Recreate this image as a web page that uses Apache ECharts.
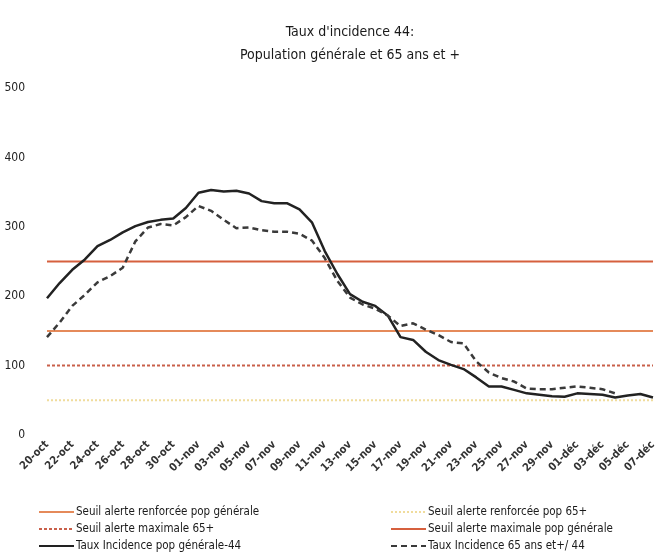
<!DOCTYPE html>
<html>
<head>
<meta charset="utf-8">
<script src="https://cdn.jsdelivr.net/npm/echarts@6/dist/echarts.min.js"></script>
<style>
  html, body { margin: 0; padding: 0; background: #fff; }
  #chart { width: 659px; height: 558px; }
</style>
</head>
<body>
<div id="chart"></div>
<script>
// jours du 20-oct au 07-déc
var days = [
  '20-oct','21-oct','22-oct','23-oct','24-oct','25-oct','26-oct','27-oct','28-oct','29-oct','30-oct','31-oct',
  '01-nov','02-nov','03-nov','04-nov','05-nov','06-nov','07-nov','08-nov','09-nov','10-nov','11-nov','12-nov',
  '13-nov','14-nov','15-nov','16-nov','17-nov','18-nov','19-nov','20-nov','21-nov','22-nov','23-nov','24-nov',
  '25-nov','26-nov','27-nov','28-nov','29-nov','30-nov','01-déc','02-déc','03-déc','04-déc','05-déc','06-déc','07-déc'
];
var tauxGeneral = [
  197, 219, 238, 253, 272, 281, 292, 301, 307, 310, 312, 327,
  349, 353, 351, 352, 348, 337, 334, 334, 325, 306, 265, 232,
  203, 192, 186, 172, 141, 137, 120, 108, 101, 95, 83, 70,
  70, 65, 60, 58, 56, 55, 60, 59, 58, 54, 57, 59, 54
];
var taux65 = [
  141, 162, 186, 202, 220, 229, 241, 279, 299, 304, 302, 314,
  330, 323, 310, 298, 299, 295, 293, 293, 290, 280, 255, 222,
  198, 188, 182, 172, 157, 161, 152, 144, 134, 132, 106, 90,
  82, 77, 67, 66, 66, 68, 70, 68, 66, 60, null, null, null
];
var seuilRenforceGeneral = 150;
var seuilRenforce65 = 50;
var seuilMaximal65 = 100;
var seuilMaximalGeneral = 250;
var yTicks = [0, 100, 200, 300, 400, 500];

var font = "'DejaVu Sans Condensed', 'Liberation Sans Narrow', sans-serif";

function flat(v) {
  return days.map(function () { return v; });
}

var legendBase = {
  top: 501,
  height: 58,
  orient: 'vertical',
  itemWidth: 35,
  itemHeight: 8,
  itemGap: 5,
  itemStyle: { opacity: 0 },
  textStyle: { fontFamily: font, fontSize: 11.5, color: '#1a1a1a', padding: [0, 0, 0, -3] }
};

var myChart = echarts.init(document.getElementById('chart'));
var option = {
  animation: false,
  title: {
    text: "Taux d'incidence 44:\nPopulation générale et 65 ans et +",
    left: 345,
    top: 16,
    textAlign: 'center',
    textStyle: {
      fontFamily: font,
      fontSize: 14,
      fontWeight: 'normal',
      color: '#1a1a1a',
      lineHeight: 23
    }
  },
  grid: {
    left: 47,
    right: 4,
    top: 88,
    bottom: 123,
    containLabel: false
  },
  legend: [
    Object.assign({}, legendBase, {
      left: 33,
      data: ['Seuil alerte renforcée pop générale', 'Seuil alerte maximale 65+', 'Taux Incidence pop générale-44']
    }),
    Object.assign({}, legendBase, {
      left: 385,
      data: ['Seuil alerte renforcée pop 65+', 'Seuil alerte maximale pop générale', 'Taux Incidence 65 ans et+/ 44']
    })
  ],
  xAxis: {
    type: 'category',
    boundaryGap: false,
    data: days,
    axisLine: { show: false },
    axisTick: { show: false },
    axisLabel: {
      interval: 1,
      rotate: 45,
      margin: 8,
      fontFamily: font,
      fontSize: 11,
      fontWeight: 'bold',
      color: '#333'
    }
  },
  yAxis: {
    type: 'value',
    min: yTicks[0],
    max: yTicks[yTicks.length - 1],
    interval: 100,
    axisLine: { show: false },
    axisTick: { show: false },
    splitLine: { show: false },
    axisLabel: {
      margin: 22,
      fontFamily: font,
      fontSize: 12,
      color: '#222'
    }
  },
  series: [
    {
      name: 'Seuil alerte renforcée pop générale',
      type: 'line',
      symbol: 'none',
      data: flat(seuilRenforceGeneral),
      lineStyle: { color: '#e58a5a', width: 2 },
      itemStyle: { color: '#e58a5a' }
    },
    {
      name: 'Seuil alerte renforcée pop 65+',
      type: 'line',
      symbol: 'none',
      data: flat(seuilRenforce65),
      lineStyle: { color: '#f0dc9c', width: 2, type: 'dotted' },
      itemStyle: { color: '#f0dc9c' }
    },
    {
      name: 'Seuil alerte maximale 65+',
      type: 'line',
      symbol: 'none',
      data: flat(seuilMaximal65),
      lineStyle: { color: '#c9604a', width: 2, type: [3, 2] },
      itemStyle: { color: '#c9604a' }
    },
    {
      name: 'Seuil alerte maximale pop générale',
      type: 'line',
      symbol: 'none',
      data: flat(seuilMaximalGeneral),
      lineStyle: { color: '#d6603e', width: 2 },
      itemStyle: { color: '#d6603e' }
    },
    {
      name: 'Taux Incidence pop générale-44',
      type: 'line',
      symbol: 'none',
      data: tauxGeneral,
      lineStyle: { color: '#222', width: 2.5 },
      itemStyle: { color: '#222' }
    },
    {
      name: 'Taux Incidence 65 ans et+/ 44',
      type: 'line',
      symbol: 'none',
      data: taux65,
      lineStyle: { color: '#3a3a3a', width: 2.5, type: [6, 4] },
      itemStyle: { color: '#3a3a3a' }
    }
  ]
};
myChart.setOption(option);
window.addEventListener('resize', function () {
  myChart.resize();
});
</script>
</body>
</html>
